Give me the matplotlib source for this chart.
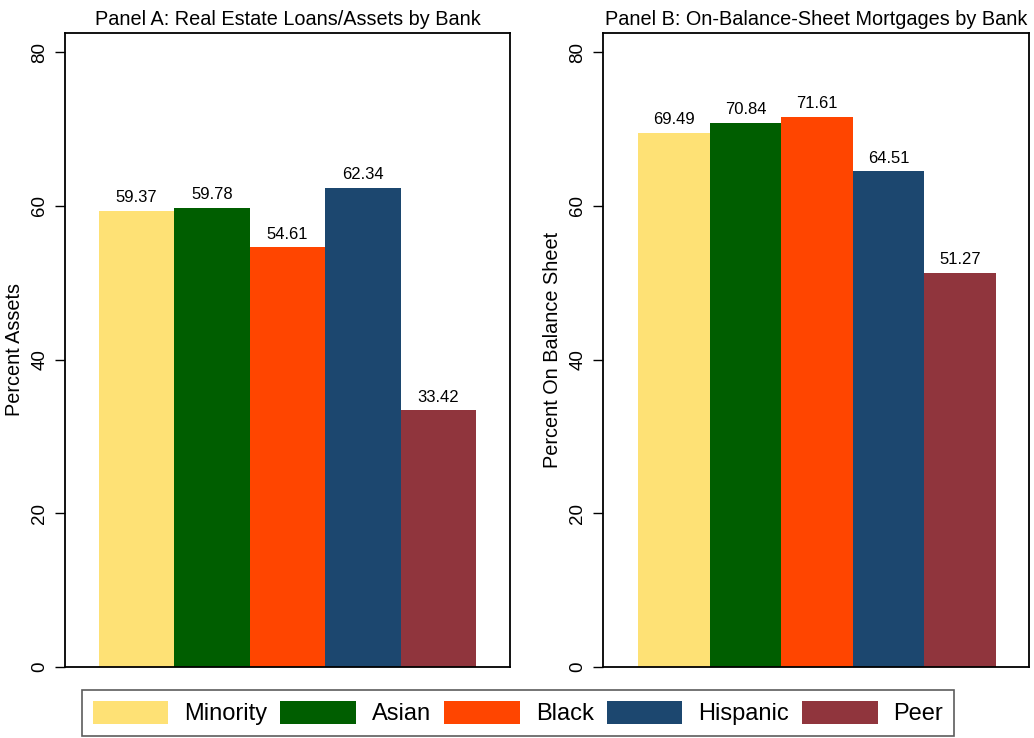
import matplotlib
matplotlib.use("Agg")
import matplotlib.pyplot as plt
from matplotlib.patches import Patch

plt.rcParams['font.family'] = ['Liberation Sans', 'DejaVu Sans']

groups = ["Minority", "Asian", "Black", "Hispanic", "Peer"]
colors = ["#FEE175", "#005E00", "#FF4500", "#1C476F", "#90353D"]
panel_a = [59.37, 59.78, 54.61, 62.34, 33.42]
panel_b = [69.49, 70.84, 71.61, 64.51, 51.27]
titles = ["Panel A: Real Estate Loans/Assets by Bank",
          "Panel B: On-Balance-Sheet Mortgages by Bank"]
ylabels = ["Percent Assets", "Percent On Balance Sheet"]
yticks = [0, 20, 40, 60, 80]

W, H = 1034, 738
fig = plt.figure(figsize=(W / 100, H / 100), dpi=100)

def box(l, r, t, b):
    return [l / W, 1 - b / H, (r - l) / W, (b - t) / H]

axes_boxes = [box(65, 510, 33, 667), box(603, 1029, 33, 667)]
xlims = [(-0.95, 4.95), (-0.99, 4.96)]

for i, (vals, title, ylab) in enumerate(zip([panel_a, panel_b], titles, ylabels)):
    ax = fig.add_axes(axes_boxes[i])
    x = list(range(len(groups)))
    ax.bar(x, vals, width=1.0, color=colors, edgecolor='none')
    for xi, v in zip(x, vals):
        ax.annotate(f"{v:.2f}", (xi, v), xytext=(0, 4), textcoords='offset points',
                    ha='center', va='bottom', fontsize=12)
    ax.set_xlim(*xlims[i])
    ax.set_ylim(0, 82.5)
    ax.set_yticks(yticks)
    ax.set_yticklabels([str(t) for t in yticks], rotation=90, va='center', fontsize=13.5)
    ax.set_xticks([])
    ax.tick_params(axis='y', direction='out', length=7, width=1.0, pad=5)
    for s in ax.spines.values():
        s.set_linewidth(1.3)
    ax.set_title(title, fontsize=14.3, pad=6)
    ax.set_ylabel(ylab, fontsize=14.3, labelpad=5)

handles = [Patch(facecolor=c, edgecolor='none') for c in colors]
leg = fig.legend(handles, groups, loc='center',
                 bbox_to_anchor=(518 / W, 1 - 713 / H), ncol=5, fontsize=17,
                 frameon=True, fancybox=False, edgecolor='#333333',
                 handlelength=3.2, handleheight=1.15, columnspacing=0.55,
                 handletextpad=0.68, borderpad=0.45, borderaxespad=0)
leg.get_frame().set_linewidth(1.2)

fig.savefig("out.png", dpi=100)
